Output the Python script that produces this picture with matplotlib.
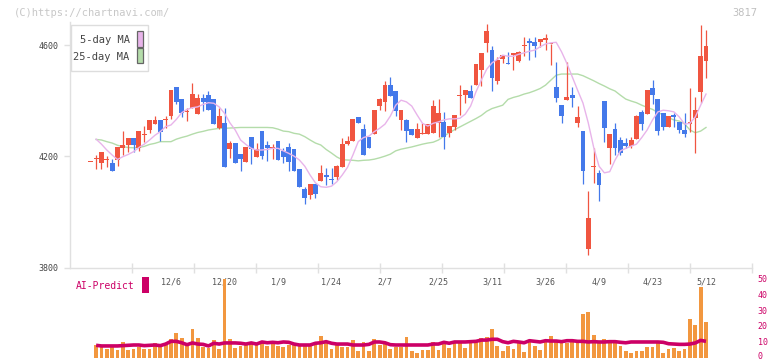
import matplotlib
matplotlib.use("Agg")
import matplotlib.pyplot as plt
from matplotlib.patches import Rectangle
from matplotlib.transforms import ScaledTranslation

# ---------------- data ----------------
opens = [4180, 4191, 4177, 4188, 4176, 4188, 4231, 4240, 4266, 4229,
         4276, 4295, 4315, 4330, 4332, 4346, 4449, 4406, 4358, 4373,
         4353, 4410, 4420, 4406, 4303, 4320, 4225, 4248, 4208, 4181,
         4270, 4199, 4291, 4241, 4232, 4255, 4219, 4234, 4226, 4155,
         4083, 4062, 4100, 4111, 4134, 4119, 4127, 4163, 4243, 4254,
         4341, 4298, 4270, 4281, 4382, 4396, 4456, 4435, 4331, 4331,
         4297, 4266, 4279, 4279, 4283, 4319, 4323, 4283, 4307, 4418,
         4419, 4436, 4456, 4510, 4608, 4582, 4471, 4549, 4534, 4563,
         4544, 4595, 4614, 4611, 4612, 4618, 4603, 4449, 4384, 4402,
         4420, 4320, 4291, 3867, 4163, 4140, 4399, 4230, 4298, 4259,
         4248, 4237, 4262, 4359, 4352, 4446, 4406, 4356, 4305, 4349,
         4323, 4295, 4316, 4338, 4431, 4543]
highs = [4181, 4206, 4216, 4201, 4189, 4234, 4291, 4266, 4266, 4291,
         4309, 4330, 4345, 4330, 4345, 4438, 4449, 4406, 4375, 4464,
         4424, 4424, 4435, 4406, 4375, 4374, 4255, 4248, 4208, 4234,
         4270, 4249, 4291, 4255, 4244, 4255, 4229, 4248, 4226, 4155,
         4090, 4100, 4100, 4169, 4158, 4158, 4168, 4266, 4272, 4334,
         4341, 4316, 4270, 4367, 4410, 4471, 4485, 4435, 4367, 4334,
         4297, 4319, 4319, 4316, 4402, 4406, 4359, 4309, 4349, 4456,
         4438, 4456, 4532, 4572, 4676, 4596, 4558, 4564, 4575, 4571,
         4579, 4628, 4625, 4629, 4622, 4640, 4605, 4539, 4384, 4539,
         4449, 4381, 4291, 4075, 4230, 4151, 4399, 4280, 4320, 4270,
         4266, 4270, 4349, 4367, 4438, 4474, 4406, 4356, 4345, 4356,
         4323, 4356, 4446, 4413, 4672, 4654]
lows = [4179, 4156, 4156, 4163, 4148, 4166, 4205, 4217, 4216, 4219,
        4253, 4285, 4315, 4256, 4301, 4333, 4389, 4342, 4328, 4373,
        4353, 4364, 4368, 4317, 4297, 4163, 4193, 4177, 4148, 4181,
        4174, 4199, 4190, 4183, 4190, 4188, 4177, 4148, 4148, 4091,
        4028, 4048, 4051, 4111, 4098, 4102, 4115, 4163, 4241, 4254,
        4321, 4206, 4231, 4281, 4367, 4364, 4418, 4346, 4295, 4253,
        4277, 4266, 4279, 4279, 4283, 4271, 4227, 4268, 4295, 4349,
        4391, 4411, 4456, 4454, 4576, 4435, 4459, 4534, 4531, 4510,
        4538, 4561, 4546, 4556, 4594, 4582, 4529, 4395, 4320, 4402,
        4377, 4307, 4101, 3847, 4104, 4040, 4252, 4172, 4205, 4205,
        4230, 4230, 4262, 4295, 4352, 4388, 4277, 4295, 4305, 4305,
        4283, 4271, 4287, 4212, 4392, 4481]
closes = [4180, 4192, 4216, 4190, 4148, 4234, 4240, 4266, 4241, 4291,
          4278, 4330, 4330, 4289, 4334, 4438, 4395, 4357, 4360, 4424,
          4410, 4395, 4368, 4317, 4345, 4163, 4247, 4177, 4190, 4234,
          4226, 4226, 4202, 4231, 4233, 4188, 4199, 4179, 4148, 4091,
          4051, 4100, 4065, 4140, 4127, 4114, 4165, 4244, 4255, 4334,
          4321, 4206, 4231, 4367, 4406, 4456, 4418, 4364, 4367, 4292,
          4277, 4298, 4281, 4316, 4382, 4355, 4271, 4309, 4349, 4420,
          4438, 4411, 4532, 4572, 4651, 4483, 4546, 4564, 4531, 4571,
          4575, 4597, 4608, 4598, 4622, 4625, 4605, 4411, 4345, 4413,
          4411, 4341, 4147, 3978, 4165, 4097, 4302, 4280, 4230, 4212,
          4237, 4259, 4345, 4316, 4438, 4420, 4291, 4305, 4345, 4341,
          4295, 4280, 4323, 4367, 4561, 4596]

# moving averages, volume and AI-Predict (days 1..115)
ma5 = [4262, 4244, 4223, 4205, 4189, 4199, 4207, 4217, 4232, 4244,
       4259, 4276, 4289, 4307, 4313, 4333, 4357, 4369, 4375, 4378,
       4387, 4393, 4391, 4378, 4355, 4321, 4295, 4259, 4243, 4229,
       4223, 4223, 4225, 4229, 4229, 4220, 4211, 4201, 4187, 4165,
       4133, 4105, 4091, 4089, 4093, 4109, 4133, 4161, 4205, 4253,
       4268, 4273, 4289, 4301, 4316, 4345, 4384, 4402, 4396, 4381,
       4349, 4319, 4309, 4319, 4324, 4331, 4335, 4335, 4337, 4352,
       4381, 4432, 4474, 4513, 4536, 4549, 4564, 4560, 4560, 4567,
       4572, 4578, 4582, 4594, 4604, 4608, 4610, 4576, 4534, 4486,
       4438, 4392, 4320, 4233, 4165, 4141, 4145, 4187, 4220, 4229,
       4237, 4244, 4268, 4295, 4331, 4360, 4366, 4364, 4360, 4342,
       4316, 4319, 4342, 4384, 4424]
ma25 = [4261, 4259, 4253, 4248, 4240, 4235, 4232, 4231, 4232, 4236,
        4243, 4247, 4253, 4253, 4253, 4262, 4268, 4273, 4280, 4286,
        4290, 4295, 4298, 4301, 4301, 4302, 4303, 4304, 4304, 4304,
        4304, 4304, 4304, 4303, 4298, 4291, 4289, 4283, 4280, 4271,
        4259, 4248, 4241, 4225, 4212, 4198, 4188, 4187, 4186, 4184,
        4186, 4187, 4190, 4195, 4201, 4208, 4220, 4226, 4230, 4234,
        4239, 4244, 4248, 4251, 4259, 4273, 4285, 4296, 4306, 4316,
        4326, 4336, 4347, 4362, 4372, 4378, 4384, 4405, 4412, 4417,
        4424, 4429, 4436, 4444, 4456, 4474, 4492, 4496, 4496, 4496,
        4496, 4490, 4481, 4472, 4462, 4453, 4443, 4435, 4420, 4406,
        4399, 4393, 4384, 4376, 4369, 4358, 4349, 4339, 4331, 4327,
        4317, 4295, 4285, 4291, 4304]
volume = [7.8, 6.5, 5.7, 6.5, 4.8, 9.9, 4.8, 5.7, 6.5, 5.7,
          5.7, 9.3, 6.5, 8.0, 11.8, 15.7, 12.4, 8.0, 18.0, 12.4,
          6.5, 6.1, 11.1, 5.7, 49.6, 11.8, 6.1, 7.6, 8.0, 9.3,
          8.0, 9.3, 7.6, 8.6, 7.4, 6.5, 8.0, 8.0, 7.4, 8.0,
          8.0, 9.0, 13.7, 9.3, 5.7, 8.0, 6.9, 6.5, 11.1, 4.4,
          9.9, 4.4, 11.8, 8.0, 9.6, 5.3, 6.9, 6.9, 12.8, 4.4,
          2.7, 4.8, 4.8, 9.9, 4.8, 9.9, 6.1, 9.6, 9.6, 6.1,
          11.1, 10.1, 12.2, 13.0, 17.9, 7.1, 4.2, 7.4, 5.7, 9.6,
          3.6, 10.1, 7.4, 4.8, 10.1, 13.7, 10.1, 11.1, 9.1, 9.9,
          9.9, 27.5, 28.8, 14.3, 10.3, 11.6, 9.3, 9.1, 7.4, 4.4,
          2.7, 4.4, 4.4, 6.5, 6.5, 9.6, 2.9, 5.3, 6.1, 4.4,
          5.5, 24.4, 20.6, 44.5, 22.5]
ai_predict = [7.8, 7.4, 7.4, 7.4, 7.4, 7.6, 7.8, 8.0, 8.0, 7.6,
              7.8, 8.0, 7.6, 8.6, 10.3, 10.3, 9.4, 8.2, 9.3, 8.6,
              8.4, 7.4, 9.1, 8.6, 9.3, 9.3, 9.3, 9.1, 8.6, 9.3,
              8.6, 9.9, 9.4, 9.7, 9.4, 9.9, 9.7, 8.6, 8.0, 8.0,
              8.0, 9.1, 9.4, 10.1, 9.1, 8.6, 8.6, 8.6, 8.0, 8.0,
              8.0, 8.4, 9.9, 9.9, 9.4, 8.2, 8.0, 8.0, 8.0, 8.0,
              8.0, 8.0, 8.0, 8.6, 8.6, 9.7, 9.1, 9.9, 9.9, 9.9,
              10.1, 10.3, 11.1, 11.1, 11.6, 11.6, 10.1, 9.4, 10.3, 9.9,
              9.4, 10.7, 10.3, 9.9, 10.7, 10.5, 10.5, 10.1, 10.7, 10.7,
              10.3, 10.3, 9.9, 10.1, 9.9, 9.9, 10.1, 10.1, 9.7, 9.4,
              9.9, 9.9, 9.9, 9.9, 9.9, 9.9, 9.7, 8.8, 8.6, 8.4,
              8.4, 8.6, 9.3, 10.9, 10.3]
date_labels = ['12/6', '12/20', '1/9', '1/24', '2/7', '2/25',
               '3/11', '3/26', '4/9', '4/23', '5/12']
date_index = [15, 25, 35, 45, 55, 65, 75, 85, 95, 105, 115]
price_ticks = [3800, 4200, 4600]
vol_ticks = [0, 10, 20, 30, 40, 50]

# ---------------- style ----------------
RED = '#F05540'
BLUE = '#4479EA'
PINK = '#E8B4EA'
GREEN = '#B4DCAA'
ORANGE = '#F2973F'
CRIMSON = '#CC0066'
AXC = '#E0E0E0'
plt.rcParams['font.family'] = ['DejaVu Sans Mono']

W, H = 772, 361
fig = plt.figure(figsize=(W / 100, H / 100), dpi=100)


def fx(px):
    return px / W


def fy(py):
    return 1 - py / H


n = len(closes)
idx = list(range(n))
idx1 = list(range(1, n))
x_left = (70 - 90.75) / 5.35
x_right = (752 - 90.75) / 5.35

# ---------------- price panel ----------------
ax = fig.add_axes([fx(70), fy(268), (752 - 70) / W, (268 - 22) / H])
ax.set_xlim(x_left, x_right)
ax.set_ylim(3799, 4683)
ax.set_facecolor('none')

cols = [RED if c >= o else BLUE for o, c in zip(opens, closes)]
bottoms = [min(o, c) for o, c in zip(opens, closes)]
heights = [max(abs(c - o), 3.6) for o, c in zip(opens, closes)]
ax.vlines(idx, lows, highs, colors=cols, linewidth=0.9, zorder=3)
ax.bar(idx, heights, 0.9, bottom=bottoms, color=cols, linewidth=0, zorder=3)
ax.plot(idx1, ma25, color=GREEN, lw=1.0, zorder=2)
ax.plot(idx1, ma5, color=PINK, lw=1.0, zorder=4)

for s in ['top', 'right']:
    ax.spines[s].set_visible(False)
for s in ['left', 'bottom']:
    ax.spines[s].set_color(AXC)
    ax.spines[s].set_linewidth(1.0)

ax.set_yticks(price_ticks)
ax.set_yticklabels([str(v) for v in price_ticks])
ax.tick_params(axis='y', direction='out', length=4, width=1, color=AXC,
               labelsize=6, labelcolor='#444444', pad=4)

major = [x_left + k * (x_right - x_left) / 11 for k in range(1, 12)]
ax.set_xticks(major)
ax.set_xticklabels([''] * len(major))
ax.tick_params(axis='x', which='major', direction='inout', length=7,
               width=1, color=AXC)
ax.set_xticks(date_index, minor=True)
ax.set_xticklabels(date_labels, minor=True)
ax.tick_params(axis='x', which='minor', length=0, pad=7,
               labelsize=6, labelcolor='#555555')

# ---------------- volume panel ----------------
axv = fig.add_axes([fx(70), fy(357.7), (752 - 70) / W, (357.7 - 278.3) / H])
axv.set_xlim(x_left, x_right)
axv.set_ylim(0, 50)
axv.set_facecolor('none')
axv.bar(idx1, volume, 0.7, color=ORANGE, linewidth=0, zorder=2)
axv.plot(idx1, ai_predict, color=CRIMSON, lw=2.6, zorder=3,
         solid_capstyle='butt')
for s in axv.spines.values():
    s.set_visible(False)
axv.set_xticks([])
axv.yaxis.tick_right()
axv.set_yticks(vol_ticks)
axv.set_yticklabels([str(v) for v in vol_ticks])
axv.tick_params(axis='y', length=0, pad=4, labelsize=6,
                labelcolor=CRIMSON)
# keep the "0" label inside the picture
zero_lbl = axv.get_yticklabels()[0]
zero_lbl.set_transform(zero_lbl.get_transform() +
                       ScaledTranslation(0, 2 / 100, fig.dpi_scale_trans))

# ---------------- decorations ----------------
fig.text(fx(14), fy(12.5), '(C)https://chartnavi.com/', fontsize=7.5,
         color='#C8C8C8', ha='left', va='center')
fig.text(fx(757), fy(12.5), '3817', fontsize=7.5, color='#C0C0C0',
         ha='right', va='center')

# legend box
fig.add_artist(Rectangle((fx(70.5), fy(71)), (148 - 70.5) / W, (71 - 24.5) / H,
                         transform=fig.transFigure, facecolor='white',
                         edgecolor='#DDDDDD', lw=1.0, zorder=10))
fig.text(fx(129.5), fy(40), '5-day MA', fontsize=7.5, color='#444444',
         ha='right', va='center', zorder=11)
fig.text(fx(129.5), fy(56.5), '25-day MA', fontsize=7.5, color='#444444',
         ha='right', va='center', zorder=11)
fig.add_artist(Rectangle((fx(136.5), fy(46.5)), 6 / W, 15 / H,
                         transform=fig.transFigure, facecolor=PINK,
                         edgecolor='#666666', lw=0.9, zorder=11))
fig.add_artist(Rectangle((fx(136.5), fy(63)), 6 / W, 15 / H,
                         transform=fig.transFigure, facecolor=GREEN,
                         edgecolor='#666666', lw=0.9, zorder=11))

# AI-Predict label
fig.text(fx(76), fy(286), 'AI-Predict', fontsize=7, color=CRIMSON,
         ha='left', va='center')
fig.add_artist(Rectangle((fx(142), fy(293)), 7 / W, 16 / H,
                         transform=fig.transFigure, facecolor=CRIMSON,
                         edgecolor='none'))

fig.savefig('out.png', dpi=100)
